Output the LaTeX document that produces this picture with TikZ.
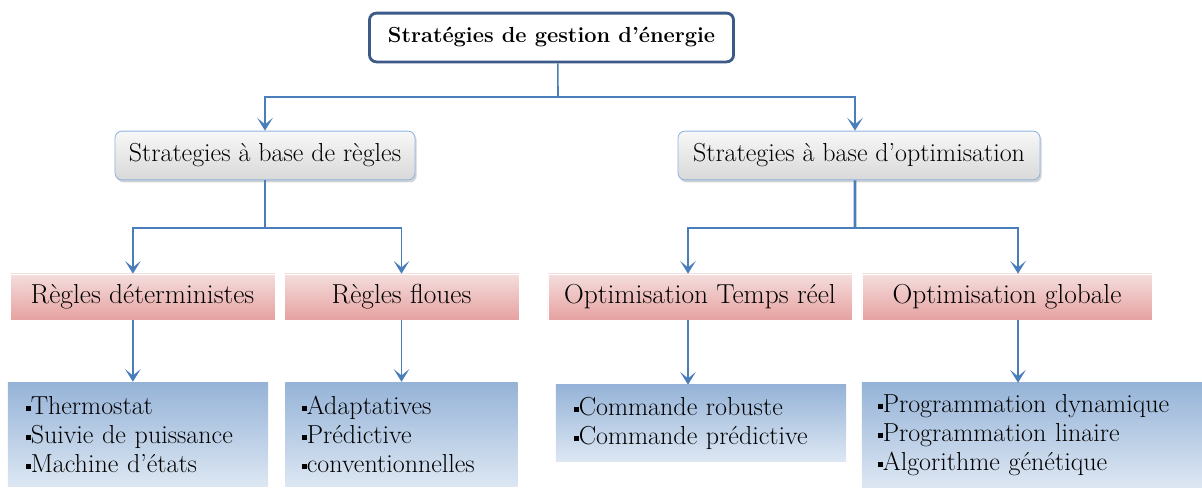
\documentclass[tikz,border=0pt]{standalone}
\usepackage{fontspec}
\usetikzlibrary{arrows.meta,shadows}

\definecolor{linkblue}{HTML}{4A7EBB}
\definecolor{titleedge}{HTML}{3C5A87}
\definecolor{grayedge}{HTML}{8EB4E3}
\definecolor{pinktop}{HTML}{F4DEDD}
\definecolor{pinkbot}{HTML}{E6A1A0}
\definecolor{bluetop}{HTML}{95B3D7}
\definecolor{bluebot}{HTML}{DDE7F3}

\newcommand{\sqbul}{\rule[2.4pt]{3.4pt}{3.4pt}}

\tikzset{
  titlebox/.style={draw=titleedge, line width=2pt, rounded corners=5pt, fill=white,
    minimum width=9.1cm, minimum height=1.22cm,
    font=\fontsize{15.5}{18}\selectfont\bfseries},
  stratbox/.style={draw=grayedge, line width=0.6pt, rounded corners=5pt,
    top color=gray!6, bottom color=gray!30,
    drop shadow={shadow xshift=1.2pt, shadow yshift=-1.8pt, opacity=0.35},
    minimum height=1.22cm, font=\fontsize{18.5}{21}\selectfont},
  catbox/.style={draw=white, line width=0.4pt, top color=pinktop, bottom color=pinkbot,
    minimum height=1.15cm, font=\fontsize{19.5}{22}\selectfont},
  listbox/.style={top color=bluetop, bottom color=bluebot, align=left,
    inner xsep=0.45cm, inner ysep=0pt, font=\fontsize{18.5}{20.6}\selectfont},
  link/.style={draw=linkblue, line width=1.1pt},
  tip/.style={-{Stealth[length=9pt,width=11pt,inset=4.5pt]}}
}

\begin{document}
\begin{tikzpicture}[x=0.025cm,y=-0.025cm]
\useasboundingbox (0,0) rectangle (1202,487);

% top
\node[titlebox] (title) at (551.5,37.5) {Stratégies de gestion d’énergie};

% two families
\node[stratbox, minimum width=7.5cm] (rules) at (265,155.5) {Strategies à base de règles};
\node[stratbox, minimum width=9.05cm] (optim) at (859,155.5) {Strategies à base d’optimisation};

% categories
\node[catbox, minimum width=6.62cm] (determ) at (142.5,297) {Règles déterministes};
\node[catbox, minimum width=5.87cm] (fuzzy) at (401.5,297) {Règles floues};
\node[catbox, minimum width=7.6cm] (realtime) at (700,297) {Optimisation Temps réel};
\node[catbox, minimum width=7.25cm] (global) at (1007,297) {Optimisation globale};

% lists
\node[listbox, text width=5.6cm, minimum height=2.62cm] (ldeterm) at (138,434.5)
  {\sqbul Thermostat\\ \sqbul Suivie de puissance\\ \sqbul Machine d’états};
\node[listbox, text width=4.97cm, minimum height=2.62cm, inner xsep=0.42cm] (lfuzzy) at (401.5,434.5)
  {\sqbul Adaptatives\\ \sqbul Prédictive\\ \sqbul conventionnelles};
\node[listbox, text width=6.35cm, minimum height=1.9cm] (lrealtime) at (701,423)
  {\sqbul Commande robuste\\ \sqbul Commande prédictive};
\node[listbox, text width=7.7cm, minimum height=2.6cm, inner xsep=0.4cm] (lglobal) at (1032,435)
  {\sqbul Programmation dynamique\\ \sqbul Programmation linaire\\ \sqbul Algorithme génétique};

% connectors
\coordinate (bus0) at (558,97);
\coordinate (busL) at (265,228);
\coordinate (busR) at (855,228);

\draw[link] ([xshift=0.16cm]title.south) -- (bus0);
\draw[link,tip] (bus0) -| (rules.north);
\draw[link,tip] (bus0) -| ([xshift=-0.1cm]optim.north);

\draw[link] (rules.south) -- (busL);
\draw[link,tip] (busL) -| ([xshift=-0.24cm]determ.north);
\draw[link,tip] (busL) -| (fuzzy.north);

\draw[link, line width=2pt] ([xshift=-0.1cm]optim.south) -- (busR);
\draw[link,tip] (busR) -| ([xshift=-0.3cm]realtime.north);
\draw[link,tip] (busR) -| ([xshift=0.275cm]global.north);

\draw[link,tip] ([xshift=-0.24cm]determ.south) -- ([xshift=-0.24cm]determ.south |- ldeterm.north);
\draw[link,tip] (fuzzy.south) -- (fuzzy.south |- lfuzzy.north);
\draw[link,tip] ([xshift=-0.3cm]realtime.south) -- ([xshift=-0.3cm]realtime.south |- lrealtime.north);
\draw[link,tip] ([xshift=0.275cm]global.south) -- ([xshift=0.275cm]global.south |- lglobal.north);
\end{tikzpicture}
\end{document}
